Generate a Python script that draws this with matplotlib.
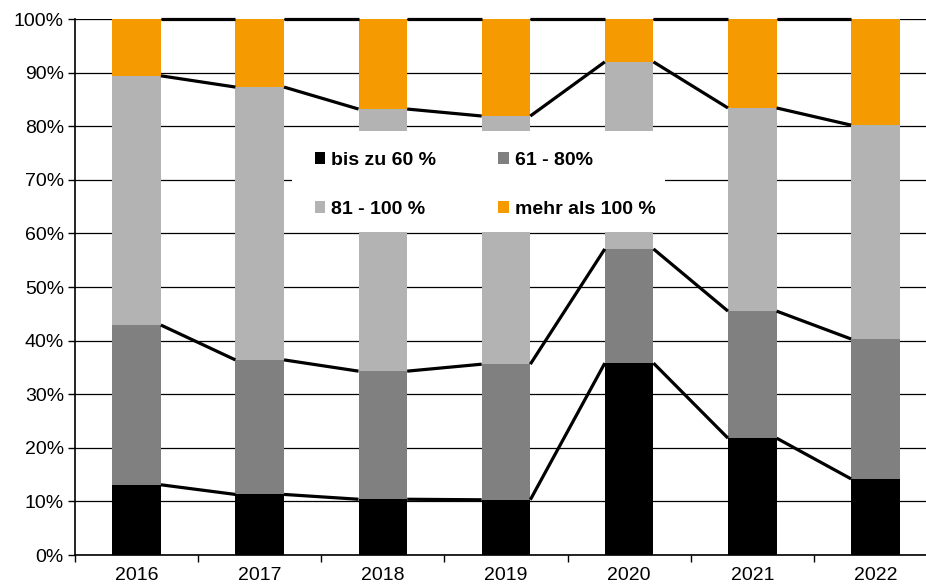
import numpy as np
import matplotlib.pyplot as plt
from matplotlib.patches import Patch, Rectangle

plt.rcParams['font.family'] = ['Liberation Sans', 'DejaVu Sans']

years = ['2016', '2017', '2018', '2019', '2020', '2021', '2022']
labels = ['bis zu 60 %', '61 - 80%', '81 - 100 %', 'mehr als 100 %']
colors = ['#000000', '#808080', '#b3b3b3', '#f59a00']

# shares in percent
bis_60 = [13.1, 11.3, 10.4, 10.3, 35.8, 21.8, 14.2]
p61_80 = [29.8, 25.1, 23.9, 25.3, 21.3, 23.7, 26.1]
p81_100 = [46.5, 50.9, 48.9, 46.3, 34.9, 37.9, 39.9]
mehr_100 = [10.6, 12.7, 16.8, 18.1, 8.0, 16.6, 19.8]

series = [bis_60, p61_80, p81_100, mehr_100]

fig = plt.figure(figsize=(9.26, 5.87), dpi=100)
ax = fig.add_axes([75 / 926, 32 / 587, 862 / 926, 536 / 587])

x = np.arange(len(years))
w = 0.395
bottom = np.zeros(len(years))
for vals, col, lab in zip(series, colors, labels):
    vals = np.array(vals)
    ax.bar(x, vals, w, bottom=bottom, color=col, label=lab, zorder=2)
    top = bottom + vals
    # series lines between bars
    for i in range(len(x) - 1):
        ax.plot([x[i] + w / 2, x[i + 1] - w / 2], [top[i], top[i + 1]],
                color='black', lw=2.3, zorder=3, solid_capstyle='butt',
                clip_on=False)
    bottom = top

ax.set_xlim(-0.5, len(years) - 0.5)
ax.set_ylim(0, 100)
ax.set_yticks(np.arange(0, 101, 10))
ax.set_yticklabels([f'{v}%' for v in range(0, 101, 10)], fontsize=14)
ax.yaxis.grid(True, color='black', lw=0.9, zorder=0)
ax.set_axisbelow(True)

ax.set_xticks(x)
ax.set_xticklabels(years, fontsize=14)
ax.set_xticks(np.arange(-0.5, len(years)), minor=True)
ax.tick_params(axis='x', which='major', length=0, pad=9)
ax.tick_params(axis='x', which='minor', length=5, width=1)
ax.tick_params(axis='y', length=5, width=1, pad=3)

for s in ['top', 'right']:
    ax.spines[s].set_visible(False)
ax.spines['left'].set_linewidth(1.2)
ax.spines['bottom'].set_linewidth(1.2)

# white legend box inside the plot
box = Rectangle((292 / 926, 1 - 232 / 587), 373 / 926, 101 / 587,
                transform=fig.transFigure, facecolor='white', edgecolor='none',
                zorder=10, clip_on=False)
ax.add_patch(box)

handles = [Patch(facecolor=c) for c in colors]
order = [0, 2, 1, 3]
leg = ax.legend([handles[i] for i in order], [labels[i] for i in order],
                ncol=2, loc='upper left', frameon=False,
                bbox_to_anchor=(305 / 926, 1 - 142 / 587),
                bbox_transform=fig.transFigure,
                prop={'size': 14, 'weight': 'bold'},
                handlelength=0.55, handleheight=0.55, handletextpad=0.3,
                columnspacing=3.2, labelspacing=1.65, borderpad=0)
leg.set_zorder(11)

fig.savefig('out.png', dpi=100)
